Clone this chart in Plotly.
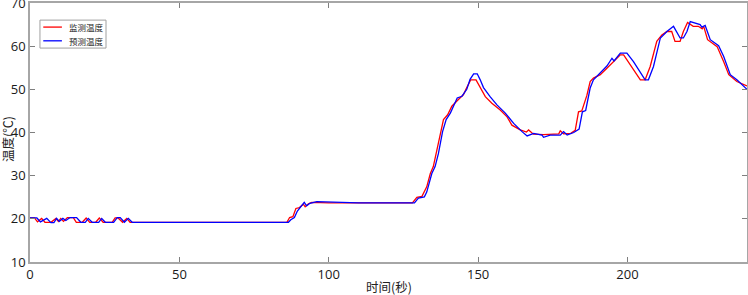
import plotly.graph_objects as go

# 监测温度 (red)
t_red = [0, 1.5, 2.5, 3.9, 5, 7, 8.7, 9.5, 10.3, 11.2, 12.5, 14.5, 15.5, 17.5, 18.8, 20, 22, 23.2,
         24.5, 27.5, 28.5, 29.5, 31, 32.4, 33.5, 86, 86.9, 88, 89, 90.2, 91.5, 92.1, 93.2, 94.3, 100,
         128, 129.5, 131.2, 132.8, 134, 135, 136.2, 137.3, 138.4, 139.8, 141.2, 142.9, 145.1, 146.2,
         147.5, 149.3, 150.7, 152.4, 154.6, 157.4, 159.6, 161.3, 164.1, 166.2, 166.9, 168.5, 171.9,
         177, 177.5, 178.6, 181, 182.5, 183.6, 184.7, 186.4, 187.5, 188.6, 190.9, 193.1, 194.8,
         197.6, 198.7, 200.9, 204.3, 205.9, 207.6, 209.8, 211.5, 213.2, 214.8, 215.9, 217.6, 218.7,
         220.1, 222, 223.7, 225, 225.5, 226.8, 230, 232.2, 233.9, 236.6, 240]
v_red = [20.2, 20.2, 19.3, 20.1, 19.2, 19.2, 20.1, 19.4, 20.1, 19.4, 20.3, 20.3, 19.2, 19.2, 20.2, 19.2,
         19.2, 20.2, 19.2, 19.2, 20.2, 20.2, 19.2, 20.1, 19.2, 19.2, 20.3, 20.5, 22.4, 22.6, 23.4,
         22.8, 23.5, 23.8, 23.7, 23.7, 25.0, 25.2, 27.4, 30.5, 32.1, 36.0, 39.9, 43.0, 44.1, 46.1,
         47.3, 48.8, 50.4, 52.2, 52.2, 50.3, 48.3, 46.8, 45.2, 43.7, 41.7, 40.6, 40.1, 40.6, 39.6,
         39.5, 39.7, 40.4, 39.7, 39.8, 40.5, 44.8, 45.0, 48.6, 51.8, 52.6, 53.4, 54.9, 56.1, 58.0,
         58.0, 55.7, 52.2, 52.2, 55.3, 61.1, 62.6, 63.4, 63.4, 61.1, 61.1, 63.4, 65.5, 64.6, 64.6,
         64.0, 64.6, 61.5, 59.9, 56.4, 53.4, 51.8, 50.8]

# 预测温度 (blue)
t_blue = [0, 2.3, 3.5, 5.6, 7, 8, 8.9, 9.8, 11, 12, 13.4, 15.6, 17, 18.5, 19.5, 20.8, 23, 24, 25.2,
          28, 29.2, 30.2, 31.6, 32.9, 34.2, 86.5, 87.3, 88.5, 89.5, 90.9, 91.8, 92.6, 93.7, 96, 100,
          110, 128.7, 130, 132, 132.8, 134.5, 135.6, 136.7, 138.1, 139.3, 140.7, 143, 144.6, 146.2,
          147.3, 148.5, 149.7, 150.7, 151.8, 154, 156.3, 159.1, 161.9, 164.7, 166.4, 168.6, 171.4,
          171.9, 174.1, 177.5, 178.6, 179.8, 182, 183.8, 184.9, 186, 187.5, 188.6, 190.9, 193.1,
          194.8, 195.5, 197.6, 199.8, 202, 205.9, 207, 208.7, 211, 213.2, 215.4, 216.5, 217.6,
          218.7, 219.9, 221, 222.7, 224.3, 224.9, 226, 227.7, 230.5, 232.2, 234.4, 236.6, 240]
v_blue = [20.2, 20.2, 19.3, 20.1, 19.1, 19.1, 20.1, 19.4, 20.1, 19.6, 20.3, 20.3, 19.2, 19.2, 20.1,
          19.2, 19.2, 20.1, 19.2, 19.2, 20.3, 20.3, 19.2, 20.1, 19.2, 19.2, 19.8, 20.3, 21.8, 23.0,
          23.8, 23.0, 23.6, 24.0, 23.9, 23.7, 23.7, 24.8, 25.1, 26.2, 30.5, 32.1, 35.1, 40.2, 43.0,
          44.5, 48.0, 48.4, 50.0, 52.3, 53.6, 53.6, 52.2, 50.4, 48.3, 46.4, 44.5, 42.1, 40.2, 39.2,
          39.8, 39.4, 38.9, 39.4, 39.4, 40.2, 39.4, 40.0, 40.8, 44.8, 45.1, 50.3, 52.2, 53.8, 55.4,
          57.2, 56.6, 58.4, 58.4, 56.4, 52.2, 52.2, 55.3, 61.9, 63.4, 64.6, 63.4, 61.9, 61.9, 63.4,
          65.7, 65.3, 65.0, 64.4, 64.8, 61.5, 60.1, 57.6, 53.4, 52.2, 50.0]

x_ticks = [0, 50, 100, 150, 200]
y_ticks = [10, 20, 30, 40, 50, 60, 70]
x_title = "时间(秒)"
y_title = "温度(℃)"
series_names = ["监测温度", "预测温度"]
series_colors = ["#ff0000", "#0000ff"]

fig = go.Figure()
fig.add_trace(go.Scatter(x=t_red, y=v_red, mode="lines", name=series_names[0], showlegend=False,
                         line=dict(color=series_colors[0], width=1.3)))
fig.add_trace(go.Scatter(x=t_blue, y=v_blue, mode="lines", name=series_names[1], showlegend=False,
                         line=dict(color=series_colors[1], width=1.3)))

axis_common = dict(showgrid=False, zeroline=False, showline=True, mirror="ticks",
                   linecolor="#a6a6a6", linewidth=1.5, ticks="inside", ticklen=5,
                   tickcolor="#7f7f7f", tickwidth=1, automargin=False,
                   ticklabeloverflow="allow",
                   tickfont=dict(family="Open Sans", size=13, color="#1a1a1a"))

fig.update_xaxes(range=[0, 240], tickvals=x_ticks, ticklabelstandoff=0, **axis_common)
fig.update_yaxes(range=[10, 70], tickvals=y_ticks, ticklabelstandoff=0, **axis_common)

fig.add_annotation(text=x_title, xref="paper", yref="paper", x=0.5, y=0, yshift=-24,
                   xanchor="center", yanchor="middle", showarrow=False,
                   font=dict(family="Noto Sans CJK SC", size=12.5, color="#222"))
fig.add_annotation(text=y_title, xref="paper", yref="paper", x=0, y=0.475, xshift=-22,
                   xanchor="center", yanchor="middle", textangle=-90, showarrow=False,
                   font=dict(family="Noto Sans CJK SC", size=12.5, color="#222"))

# Legend box (drawn manually to match the compact original legend)
fig.add_shape(type="rect", xref="paper", yref="paper", x0=0.0139, x1=0.106, y0=0.826, y1=0.934,
              line=dict(color="#a0a0a0", width=1), fillcolor="white", layer="above")
for i, (nm, col) in enumerate(zip(series_names, series_colors)):
    yy = 0.907 - i * 0.053
    fig.add_shape(type="line", xref="paper", yref="paper", x0=0.0185, x1=0.0445, y0=yy, y1=yy,
                  line=dict(color=col, width=1.3), layer="above")
    fig.add_annotation(text=nm, xref="paper", yref="paper", x=0.0512, y=yy,
                       xanchor="left", yanchor="middle", showarrow=False,
                       font=dict(family="Noto Sans CJK SC", size=8.5, color="#222"))

fig.update_layout(
    width=748, height=295,
    margin=dict(l=30, r=1, t=3, b=33, autoexpand=False),
    paper_bgcolor="white", plot_bgcolor="white",
    showlegend=False,
)

fig.write_html("out.html", config={"displayModeBar": False},
               post_script="document.body.style.margin='0';")
